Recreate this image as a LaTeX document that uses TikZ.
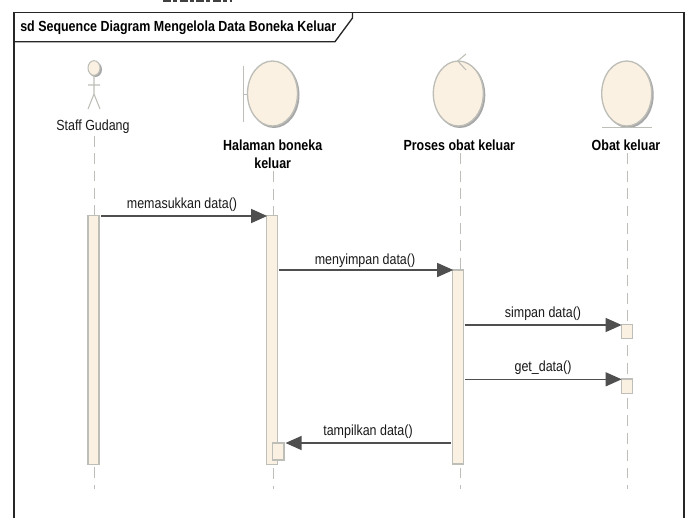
\documentclass[tikz,border=0pt]{standalone}
\usepackage{fontspec}
\setmainfont{Liberation Sans}
\newfontfamily\narrowf{Liberation Sans}[FakeStretch=0.85]
\usetikzlibrary{arrows.meta}
\definecolor{fillc}{HTML}{FBF1E3}
\definecolor{edgec}{HTML}{BEBEB8}
\definecolor{msgc}{HTML}{4F4F4F}
\definecolor{shadc}{HTML}{A8A8A8}
\tikzset{
  x=0.75pt,y=-0.75pt,
  lab/.style={font=\narrowf\fontsize{11pt}{13.5pt}\selectfont,inner sep=0,text=black!90},
  blab/.style={font=\narrowf\bfseries\fontsize{11pt}{13.5pt}\selectfont,inner sep=0,align=center,text=black},
  life/.style={draw=edgec,line width=.7pt,dash pattern=on 8.2pt off 4.9pt},
  act/.style={draw=edgec,line width=.9pt,fill=fillc,inner sep=0,minimum width=8.2pt,anchor=north},
  msg/.style={draw=msgc,line width=1pt,-{Triangle[length=12pt,width=10.5pt,fill=msgc]}},
  body/.style={draw=edgec,line width=1pt,fill=fillc},
  glyph/.style={draw=edgec,line width=.8pt}
}
\begin{document}
\begin{tikzpicture}
\useasboundingbox (0,0) rectangle (689,518);
\fill[white] (0,0) rectangle (689,518);
% clipped remnant of a line of text above the frame
\draw[black!75,line width=1.6pt,dash pattern=on 6pt off 1.5pt on 3pt off 2pt] (163,1) -- (232,1);
% frame
\draw[black!85,line width=1pt] (14,518) -- (14,12.5) -- (684,12.5) -- (684,518);
\draw[black!85,line width=1pt] (14,41.7) -- (335,41.7) -- (352.5,18) -- (352.5,12.5);
\node[blab,anchor=west] (title) at (20,27.7) {sd Sequence Diagram Mengelola Data Boneka Keluar};
% actor
\fill[shadc] (95.5,69.5) ellipse (6.5 and 7.5);
\draw[glyph,fill=fillc] (94,68) ellipse (6 and 7.3);
\coordinate (neck) at (94,75.5);
\coordinate (hip) at (94,94);
\draw[glyph] (neck) -- (hip) (88,85) -- (100,85) (hip) -- (88,109) (hip) -- (100,109);
\node[lab] (staff) at (93,127) {Staff Gudang};
% boundary
\fill[shadc] (274,95) ellipse (25.5 and 33);
\draw[body] (272.5,93.5) ellipse (25 and 32.5);
\draw[glyph] (243.5,66) -- (243.5,121.5) (243.5,94.7) -- (247.5,94.7);
\node[blab] (hal) at (272.7,154.5) {Halaman boneka\\keluar};
% control
\fill[shadc] (459.8,95) ellipse (25.5 and 33);
\draw[body] (458.3,93.5) ellipse (25 and 32.5);
\draw[glyph] (466,54) -- (457.7,61) -- (466,70);
\node[blab] (pro) at (459.3,145.5) {Proses obat keluar};
% entity
\fill[shadc] (628.2,95) ellipse (25.5 and 33);
\draw[body] (626.7,93.5) ellipse (25 and 32.5);
\draw[glyph] (602,127.3) -- (652,127.3);
\node[blab] (ent) at (626,145.5) {Obat keluar};
% lifelines
\coordinate (e1) at (94,489);
\coordinate (e2) at (273,489);
\coordinate (e3) at (460,489);
\coordinate (e4) at (627.7,489);
\draw[life] (staff.south -| e1) ++(0,1.5) -- (e1);
\draw[life] (hal.south -| e2) ++(0,2) -- (e2);
\draw[life] (pro.south -| e3) ++(0,2) -- (e3);
\draw[life] (ent.south -| e4) ++(0,2) -- (e4);
% activations
\node[act,minimum height=186.7pt] (a1) at (93.5,215) {};
\node[act,minimum height=186.7pt] (a2) at (272.2,215) {};
\node[act,minimum height=145.6pt] (a3) at (458.3,269.3) {};
\node[act,minimum height=10.5pt] (a4) at (626.7,324) {};
\node[act,minimum height=10.8pt] (a5) at (626.7,378.3) {};
\node[act,minimum height=12.8pt,minimum width=8.6pt] (a6) at (278.2,442.3) {};
% messages
\coordinate (y1) at (0,216);
\coordinate (y2) at (0,270);
\coordinate (y3) at (0,325);
\coordinate (y4) at (0,379.3);
\coordinate (y5) at (0,443);
\draw[msg] ([xshift=.75pt]a1.east |- y1) -- ([xshift=.75pt]a2.west |- y1);
\draw[msg] ([xshift=.75pt]a2.east |- y2) -- ([xshift=.75pt]a3.west |- y2);
\draw[msg] ([xshift=.75pt]a3.east |- y3) -- ([xshift=.75pt]a4.west |- y3);
\draw[msg] ([xshift=.75pt]a3.east |- y4) -- ([xshift=.75pt]a5.west |- y4);
\draw[msg] ([xshift=-.75pt]a3.west |- y5) -- ([xshift=.75pt]a6.east |- y5);
\node[lab] (l1) at (182,205) {memasukkan data()};
\node[lab] (l2) at (365,260.5) {menyimpan data()};
\node[lab] (l3) at (543,313.5) {simpan data()};
\node[lab] (l4) at (543,367.5) {get\_data()};
\node[lab] (l5) at (368,431.5) {tampilkan data()};
\end{tikzpicture}
\end{document}
